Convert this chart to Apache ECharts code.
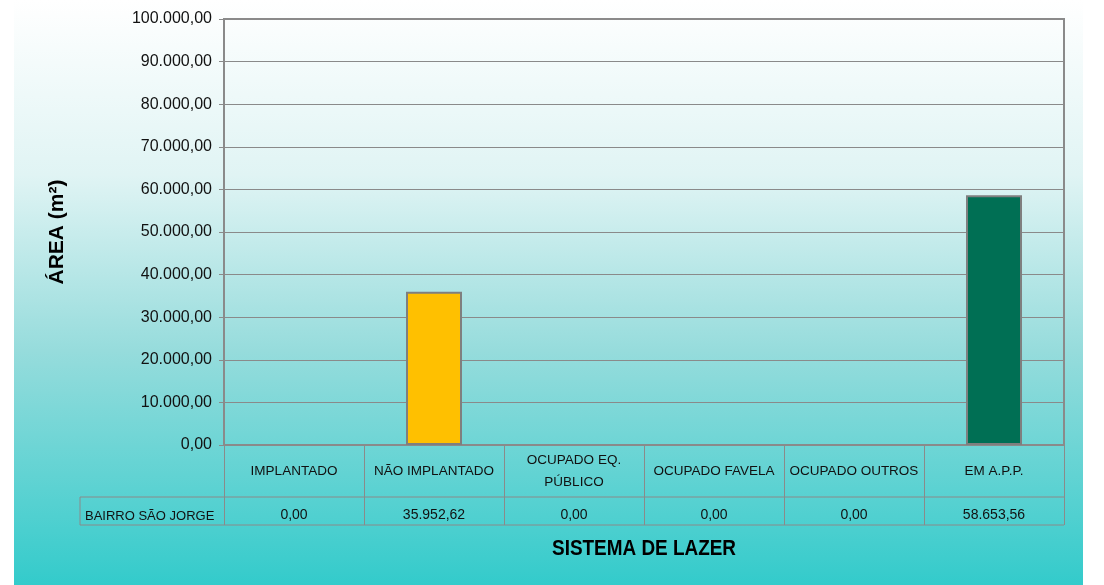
<!DOCTYPE html>
<html>
<head>
<meta charset="utf-8">
<script src="https://cdn.jsdelivr.net/npm/echarts@6/dist/echarts.min.js"></script>
<style>
html,body{margin:0;padding:0;background:#fff;}
#chart{width:1104px;height:585px;}
</style>
</head>
<body>
<div id="chart"></div>
<script>
const categories = ['IMPLANTADO', 'NÃO IMPLANTADO', 'OCUPADO EQ.\nPÚBLICO', 'OCUPADO FAVELA', 'OCUPADO OUTROS', 'EM A.P.P.'];
const values = [0.00, 35952.62, 0.00, 0.00, 0.00, 58653.56];
const seriesName = 'BAIRRO SÃO JORGE';
const yTicks = { min: 0, max: 100000, interval: 10000 };
const axisTitleY = 'ÁREA (m²)';
const axisTitleX = 'SISTEMA DE LAZER';

const palette = ['#ffc000', '#ffc000', '#ffc000', '#ffc000', '#ffc000', '#006f54'];

function fmtBR(v) {
  const neg = v < 0; v = Math.abs(v);
  const s = v.toFixed(2);
  let [intPart, dec] = s.split('.');
  intPart = intPart.replace(/\B(?=(\d{3})+(?!\d))/g, '.');
  return (neg ? '-' : '') + intPart + ',' + dec;
}

const G = { left: 224, right: 40, top: 19, bottom: 140 };
const W = 1104, H = 585;
const plotRight = W - G.right;
const plotBottom = H - G.bottom;
const gray = '#8a8a8a';
const font = 'Liberation Sans, Arial, sans-serif';

const chart = echarts.init(document.getElementById('chart'), null, { renderer: 'canvas' });
chart.setOption({
  animation: false,
  textStyle: { fontFamily: font },
  graphic: [
    {
      type: 'rect', z: -10, silent: true,
      shape: { x: 14, y: 0, width: 1069, height: H },
      style: {
        fill: new echarts.graphic.LinearGradient(0, 0, 0, 1, [
          { offset: 0, color: '#ffffff' },
          { offset: 0.3, color: '#e0f4f4' },
          { offset: 0.6, color: '#96dcdc' },
          { offset: 1, color: '#33cbcb' }
        ])
      }
    },
    { type: 'line', z: 5, shape: { x1: 80, y1: plotBottom + 52, x2: plotRight, y2: plotBottom + 52 }, style: { stroke: gray, lineWidth: 1 } },
    { type: 'line', z: 5, shape: { x1: 80, y1: plotBottom + 80, x2: plotRight, y2: plotBottom + 80 }, style: { stroke: gray, lineWidth: 1 } },
    { type: 'line', z: 5, shape: { x1: 80, y1: plotBottom + 52, x2: 80, y2: plotBottom + 80 }, style: { stroke: gray, lineWidth: 1 } },
    {
      type: 'text', z: 5, x: 85, y: plotBottom + 71,
      style: { text: seriesName, font: '13px ' + font, fill: '#111', textVerticalAlign: 'middle' }
    },
    {
      type: 'text', z: 5, x: (G.left + plotRight) / 2, y: 549, scaleX: 0.86,
      style: { text: axisTitleX, font: 'bold 22px ' + font, fill: '#000', textAlign: 'center', textVerticalAlign: 'middle' }
    }
  ],
  grid: {
    left: G.left, right: G.right, top: G.top, bottom: G.bottom,
    show: true, borderColor: gray, borderWidth: 2, backgroundColor: 'transparent'
  },
  xAxis: [
    {
      type: 'category', data: categories, position: 'bottom',
      axisLine: { show: true, lineStyle: { color: gray, width: 2 } },
      axisTick: { show: true, length: 80, lineStyle: { color: gray, width: 1 } },
      axisLabel: {
        interval: 0, margin: 26, verticalAlign: 'middle', lineHeight: 22,
        fontSize: 13.5, color: '#111', fontFamily: font
      }
    },
    {
      type: 'category', data: categories, position: 'bottom',
      axisLine: { show: false }, axisTick: { show: false },
      axisLabel: {
        interval: 0, margin: 70, verticalAlign: 'middle',
        fontSize: 14, color: '#111', fontFamily: font,
        formatter: (v, i) => fmtBR(values[i])
      }
    }
  ],
  yAxis: {
    type: 'value', min: yTicks.min, max: yTicks.max, interval: yTicks.interval,
    name: axisTitleY, nameLocation: 'middle', nameGap: 156,
    nameTextStyle: { fontSize: 21, fontWeight: 'bold', color: '#000', fontFamily: font },
    axisLine: { show: true, lineStyle: { color: gray, width: 2 } },
    axisTick: { show: true, length: 5, lineStyle: { color: gray } },
    axisLabel: { fontSize: 16, color: '#111', margin: 12, formatter: v => fmtBR(v) },
    splitLine: { show: true, lineStyle: { color: gray, width: 1 } }
  },
  series: [{
    type: 'bar', name: seriesName, xAxisIndex: 0, barWidth: '40%',
    data: values.map((v, i) => ({
      value: v,
      itemStyle: { color: palette[i], borderColor: '#7f7f7f', borderWidth: v > 0 ? 2 : 0 }
    }))
  }]
});
</script>
</body>
</html>
